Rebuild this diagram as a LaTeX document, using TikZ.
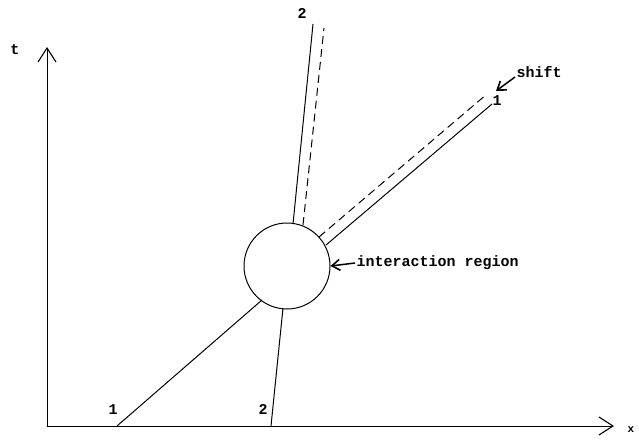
\documentclass[tikz,border=0pt]{standalone}
\usepackage{fontspec}
\setmonofont{Liberation Mono}
\usetikzlibrary{arrows.meta}
\begin{document}
\begin{tikzpicture}[x=1pt,y=-1pt,line width=1pt,
  lbl/.style={font=\ttfamily\bfseries\fontsize{15}{15}\selectfont,inner sep=1pt},
  axisarrow/.style={-{Straight Barb[length=14pt,width=18pt,line width=1.1pt]}},
  ptr/.style={-{Straight Barb[length=8pt,width=11pt,line width=1.6pt]},line width=1.5pt},
  dsh/.style={dash pattern=on 8pt off 5pt}]
\useasboundingbox (0,0) rectangle (639,439);
% axes
\coordinate (o) at (47,426);
\coordinate (ty) at (47,47);
\coordinate (tx) at (614,426);
\draw[axisarrow] (o) -- (ty);
\draw[axisarrow] (o) -- (tx);
\node[lbl] (tl) at (15,50) {t};
\node[lbl,font=\ttfamily\bfseries\fontsize{11}{11}\selectfont] (xl) at (631,430) {x};
% interaction region
\node[draw,circle,minimum size=86pt,inner sep=0pt] (c) at (287,266) {};
% particle 1
\coordinate (a1) at (117,426);
\coordinate (a1c) at (262,300);
\coordinate (b1c) at (326,245);
\coordinate (b1) at (492,104);
\coordinate (d1c) at (319,237);
\coordinate (d1) at (487,94);
\draw (a1) -- (a1c);
\draw (b1c) -- (b1);
\draw[dsh] (d1c) -- (d1);
\node[lbl] (n1a) at (113,410) {1};
\node[lbl] (n1b) at (497,101) {1};
% particle 2
\coordinate (a2) at (271,426);
\coordinate (a2c) at (283,308);
\coordinate (b2c) at (293,224);
\coordinate (b2) at (313,24);
\coordinate (d2c) at (303,225);
\coordinate (d2) at (324,28);
\draw (a2) -- (a2c);
\draw (b2c) -- (b2);
\draw[dsh] (d2c) -- (d2);
\node[lbl] (n2a) at (263,409) {2};
\node[lbl] (n2b) at (302,13) {2};
% labels with pointers
\node[lbl,anchor=west] (ir) at (355,263) {interaction region};
\draw[ptr] (ir.west) -- (c.east);
\node[lbl,anchor=west] (sh) at (515,72) {shift};
\coordinate (shtail) at (515,77);
\coordinate (shtip) at (496,91);
\draw[ptr] (shtail) -- (shtip);
\end{tikzpicture}
\end{document}
